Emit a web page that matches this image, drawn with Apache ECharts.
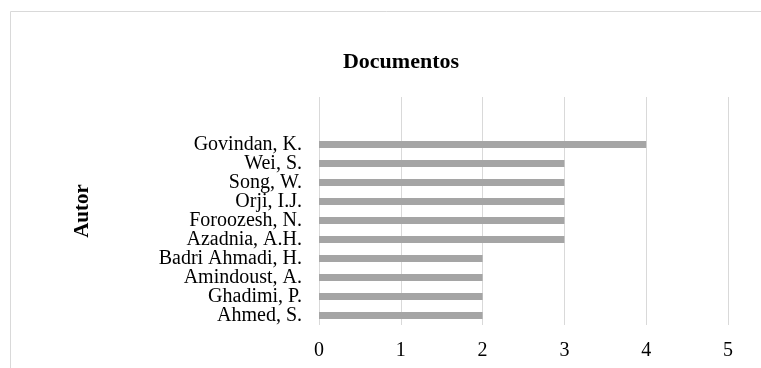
<!DOCTYPE html>
<html><head><meta charset="utf-8">
<script src="https://cdn.jsdelivr.net/npm/echarts@6/dist/echarts.min.js"></script>
<style>html,body{margin:0;padding:0;background:#fff}#c{width:761px;height:368px}</style>
</head><body><div id="c"></div>
<script>
// bottom to top
const authors = ["Ahmed, S.","Ghadimi, P.","Amindoust, A.","Badri Ahmadi, H.","Azadnia, A.H.","Foroozesh, N.","Orji, I.J.","Song, W.","Wei, S.","Govindan, K."];
const documents = [2,2,2,2,3,3,3,3,3,4];
const xTicks = [0,1,2,3,4,5];
const font = "'Liberation Serif','Times New Roman',serif";
const chart = echarts.init(document.getElementById('c'));
chart.setOption({
  animation:false,
  title:{text:'Documentos',left:396,textAlign:'center',top:46,textStyle:{fontFamily:font,fontSize:22,fontWeight:'bold',color:'#000'}},
  graphic:[{type:'rect',shape:{x:10.5,y:11.5,width:760,height:370},style:{fill:'none',stroke:'#d9d9d9',lineWidth:1}}],
  grid:{left:319,right:33,top:97,bottom:43},
  xAxis:{type:'value',min:xTicks[0],max:xTicks[xTicks.length-1],interval:1,
    axisLine:{show:false},axisTick:{show:false},
    splitLine:{lineStyle:{color:'#d9d9d9',width:1}},
    axisLabel:{fontFamily:font,fontSize:20,color:'#000',margin:16}},
  yAxis:{type:'category',data:authors,max:11,name:'Autor',nameLocation:'middle',nameGap:226,nameRotate:90,
    nameTextStyle:{fontFamily:font,fontSize:21,fontWeight:'bold',color:'#000'},
    axisLine:{show:false},axisTick:{show:false},
    axisLabel:{interval:0,fontFamily:font,fontSize:20,lineHeight:19,color:'#000',margin:17}},
  series:[{type:'bar',data:documents,barWidth:7,itemStyle:{color:'#a5a5a5'}}]
});
</script></body></html>
